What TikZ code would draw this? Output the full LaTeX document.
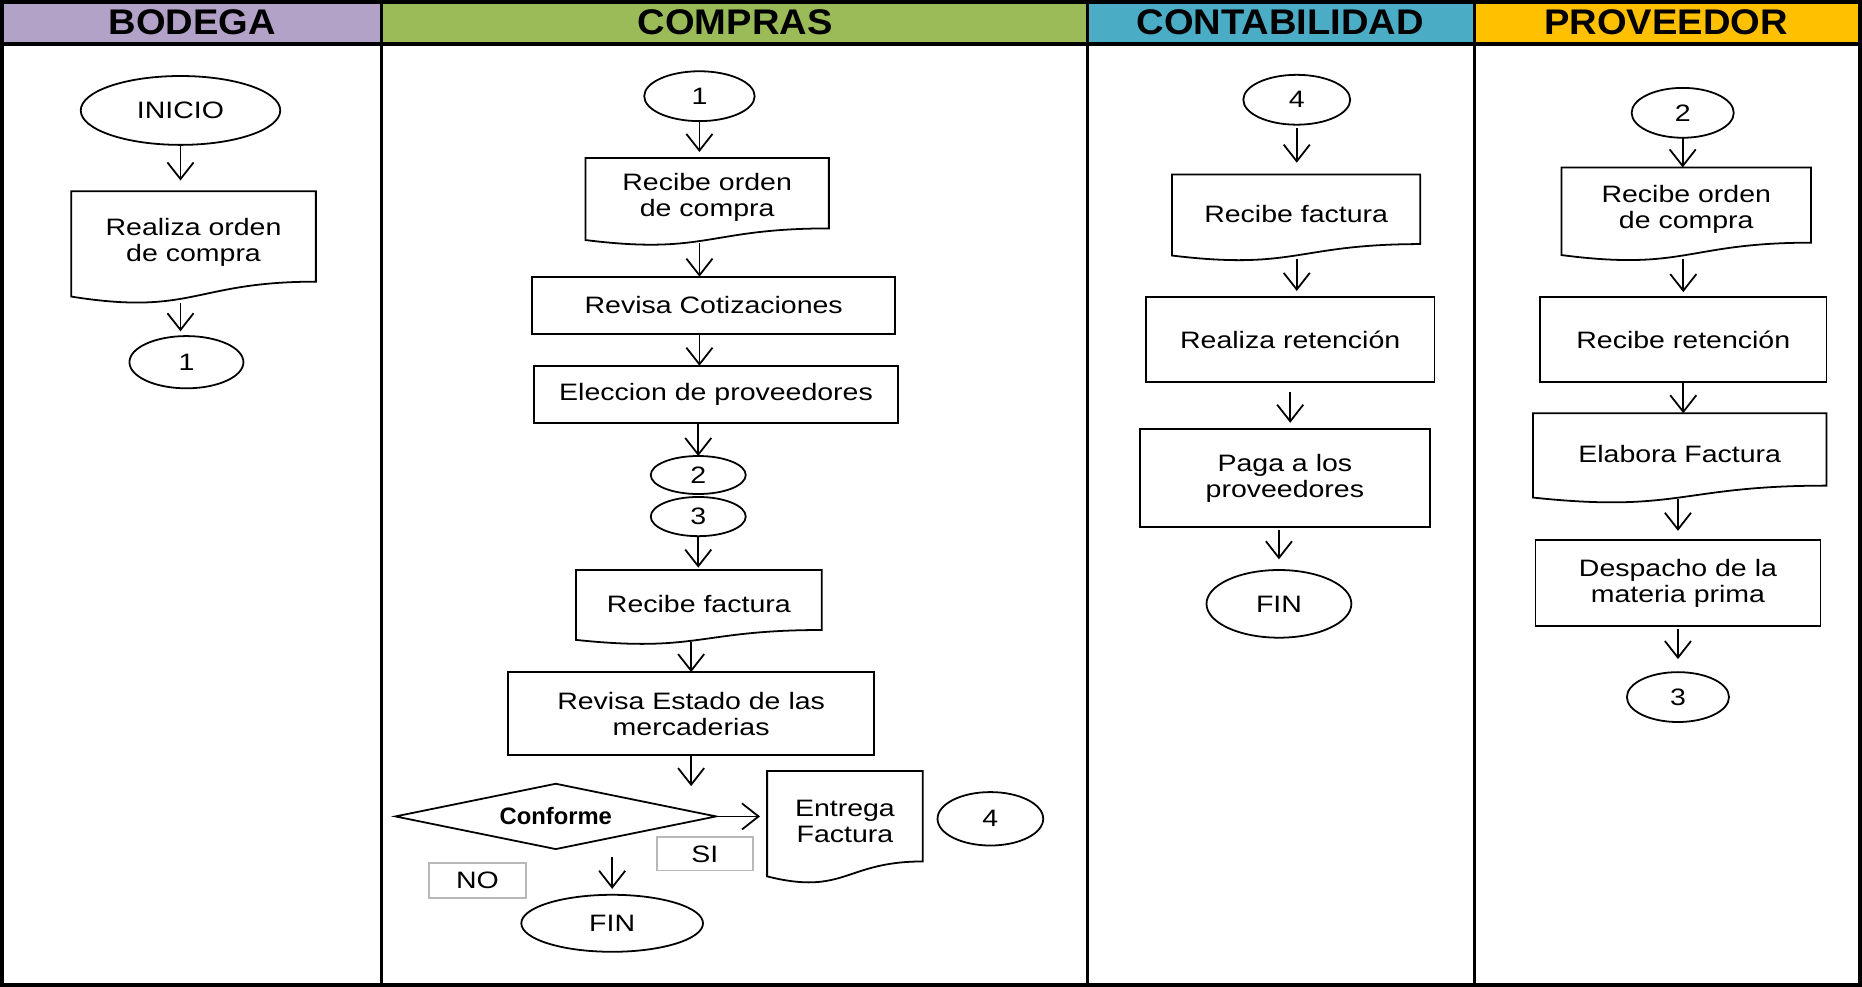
\documentclass[tikz,border=0pt]{standalone}
\usepackage{fontspec}
\usetikzlibrary{shapes.geometric,arrows.meta,calc}

\newfontfamily\bodyfont[FakeStretch=1.2]{Liberation Sans}
\newfontfamily\headfont[FakeStretch=1.07]{Liberation Sans}
\newfontfamily\decfont{Liberation Sans}

\definecolor{laneBodega}{HTML}{B3A2C7}
\definecolor{laneCompras}{HTML}{9BBB59}
\definecolor{laneConta}{HTML}{4BACC6}
\definecolor{laneProv}{HTML}{FFC000}

% outline of a flowchart document: the node covers the upper 90% of the sheet,
% the wavy lower edge is drawn below it
\newcommand\docoutline[1]{%
  \draw[shapeline] (#1.north west) -- (#1.north east)
    -- ($(#1.north east)!0.891!(#1.south east)$)
    .. controls ($(#1.north)!0.891!(#1.south)$) and ($(#1.north)!1.23!(#1.south)$)
    .. ($(#1.north west)!1.038!(#1.south west)$) -- cycle;}

\begin{document}
\begin{tikzpicture}[x=0.5pt, y=-0.5pt,
  shapeline/.style={draw=black, line width=0.75pt},
  txt/.style={font={\bodyfont\fontsize{10}{11}\selectfont}, align=center},
  term/.style={ellipse, shapeline, inner sep=0pt, outer sep=0pt, txt},
  proc/.style={rectangle, shapeline, inner sep=0pt, outer sep=0pt, txt},
  docbox/.style={rectangle, inner sep=0pt, outer sep=0pt, txt},
  tagbox/.style={rectangle, draw=black!28, line width=0.8pt, inner sep=0pt, txt},
  decision/.style={diamond, shapeline, aspect=4.9, inner sep=0pt, outer sep=0pt,
    font={\decfont\bfseries\fontsize{10}{11}\selectfont}},
  lanetitle/.style={font={\headfont\bfseries\fontsize{15}{16}\selectfont}},
  arr/.style={line width=0.75pt, -{Straight Barb[length=7pt,width=11pt]}},
  frame/.style={line width=1.5pt}]

\useasboundingbox (0,0) rectangle (1568,831);

% ---- lane headers ----
\fill[laneBodega]  (2,1) rectangle (321,37);
\fill[laneCompras] (321,1) rectangle (916,37);
\fill[laneConta]   (916,1) rectangle (1242,37);
\fill[laneProv]    (1242,1) rectangle (1566,37);

\node[lanetitle] (hBodega) at (162,19) {BODEGA};
\node[lanetitle] (hCompras) at (619,19) {COMPRAS};
\node[lanetitle] (hConta) at (1078,19) {CONTABILIDAD};
\node[lanetitle] (hProv) at (1403,19) {PROVEEDOR};

% ---- lane grid ----
\draw[frame] (1.5,1.5) rectangle (1566.5,829.5);
\draw[line width=1.75pt] (1.5,37) -- (1566.5,37);
\foreach \lx in {321,916,1242} \draw[line width=1.25pt] (\lx,1.5) -- (\lx,829.5);

% ---- BODEGA ----
\node[term, minimum width=84pt, minimum height=29pt] (b_ini) at (152,93) {INICIO};
\node[docbox, minimum width=103pt, minimum height=42.75pt] (b_doc) at (163,203.75) {Realiza orden\\de compra};
\docoutline{b_doc}
\node[term, minimum width=48pt, minimum height=22pt] (b_c1) at (157,305) {1};

\draw[arr, shorten >=4.5pt] (b_ini.south) -- (b_ini.south |- b_doc.north);
\draw[arr, shorten <=4.25pt, shorten >=2pt] (b_ini |- b_doc.south) -- (b_ini |- b_c1.north);

% ---- COMPRAS ----
\node[term, minimum width=46.5pt, minimum height=21pt] (c_c1) at (589,81) {1};
\node[docbox, minimum width=102.5pt, minimum height=33.3pt] (c_doc1) at (595.5,166.3) {Recibe orden\\de compra};
\docoutline{c_doc1}
\node[proc, minimum width=153pt, minimum height=24pt] (c_cot) at (601,257) {Revisa Cotizaciones};
\node[proc, minimum width=153pt, minimum height=24pt] (c_ele) at (603,332) {Eleccion de proveedores};
\node[term, minimum width=40pt, minimum height=16pt] (c_c2) at (588,400) {2};
\node[term, minimum width=40pt, minimum height=16.5pt] (c_c3) at (588,435) {3};
\node[docbox, minimum width=103.5pt, minimum height=28.35pt] (c_doc2) at (588.5,508.35) {Recibe factura};
\docoutline{c_doc2}
\node[proc, minimum width=154pt, minimum height=35pt] (c_rev) at (582,601) {Revisa Estado de las\\mercaderias};
\node[decision, minimum width=135pt, minimum height=27.5pt] (c_dec) at (468,687.5) {Conforme};
\node[docbox, minimum width=65.5pt, minimum height=42.75pt] (c_ent) at (711.5,692) {Entrega\\Factura};
\docoutline{c_ent}
\node[term, minimum width=44.5pt, minimum height=22.5pt] (c_c4) at (834,689.5) {4};
\node[tagbox, minimum width=40.5pt, minimum height=14pt] (c_si) at (593.5,719) {SI};
\node[tagbox, minimum width=41pt, minimum height=14.5pt] (c_no) at (402,741.5) {NO};
\node[term, minimum width=76.5pt, minimum height=24pt] (c_fin) at (515.5,777.5) {FIN};

\draw[arr, shorten >=2.5pt] (c_c1.south) -- (c_c1.south |- c_doc1.north);
\draw[arr, shorten <=2.7pt] (c_c1 |- c_doc1.south) -- (c_c1 |- c_cot.north);
\draw[arr] (c_c1 |- c_cot.south) -- (c_c1 |- c_ele.north);
\draw[arr] (c_c2 |- c_ele.south) -- (c_c2.north);
\draw[arr, shorten >=1pt] (c_c3.south) -- (c_c3 |- c_doc2.north);
\draw[arr, shorten <=2pt] (c_rev |- c_doc2.south) -- (c_rev.north);
\draw[arr, shorten >=-1pt] (c_rev.south) -- (c_rev.south |- c_dec.north);
\draw[arr, shorten >=3pt] (c_dec.east) -- (c_dec.east -| c_ent.west);
\draw[arr, shorten <=3.5pt, shorten >=2.5pt] (c_fin.north |- c_dec.south) -- (c_fin.north);

% ---- CONTABILIDAD ----
\node[term, minimum width=45pt, minimum height=21pt] (k_c4) at (1092,84) {4};
\node[docbox, minimum width=104.5pt, minimum height=32.85pt] (k_doc) at (1091.5,179.85) {Recibe factura};
\docoutline{k_doc}
\node[proc, minimum width=121.5pt, minimum height=36pt] (k_ret) at (1086.5,286) {Realiza retención};
\node[proc, minimum width=122pt, minimum height=41.5pt] (k_pag) at (1082,402.5) {Paga a los\\proveedores};
\node[term, minimum width=61pt, minimum height=28.5pt] (k_fin) at (1077,508.5) {FIN};

\draw[arr, shorten <=1.5pt, shorten >=5pt] (k_c4.south) -- (k_c4 |- k_doc.north);
\draw[arr, shorten <=2.6pt, shorten >=2.5pt] (k_c4 |- k_doc.south) -- (k_c4 |- k_ret.north);
\draw[arr, shorten <=4pt, shorten >=2.5pt] (k_ret.south) -- (k_ret.south |- k_pag.north);
\draw[arr, shorten <=1pt, shorten >=4.5pt] (k_fin |- k_pag.south) -- (k_fin.north);

% ---- PROVEEDOR ----
\node[term, minimum width=43pt, minimum height=21pt] (p_c2) at (1417,95) {2};
\node[docbox, minimum width=105pt, minimum height=35.55pt] (p_doc1) at (1420,176.55) {Recibe orden\\de compra};
\docoutline{p_doc1}
\node[proc, minimum width=120.5pt, minimum height=36pt] (p_ret) at (1417.5,286) {Recibe retención};
\node[docbox, minimum width=123.5pt, minimum height=34.2pt] (p_ela) at (1414.5,382.2) {Elabora Factura};
\docoutline{p_ela}
\node[proc, minimum width=120pt, minimum height=36pt] (p_des) at (1413,491) {Despacho de la\\materia prima};
\node[term, minimum width=43pt, minimum height=21pt] (p_c3) at (1413,587) {3};

\draw[arr] (p_c2.south) -- (p_c2 |- p_doc1.north);
\draw[arr, shorten <=3pt, shorten >=2pt] (p_ret |- p_doc1.south) -- (p_ret.north);
\draw[arr] (p_ret.south) -- (p_ret.south |- p_ela.north);
\draw[arr, shorten <=2pt, shorten >=4pt] (p_des |- p_ela.south) -- (p_des.north);
\draw[arr, shorten <=1.5pt, shorten >=5.5pt] (p_c3 |- p_des.south) -- (p_c3.north);

\end{tikzpicture}
\end{document}
